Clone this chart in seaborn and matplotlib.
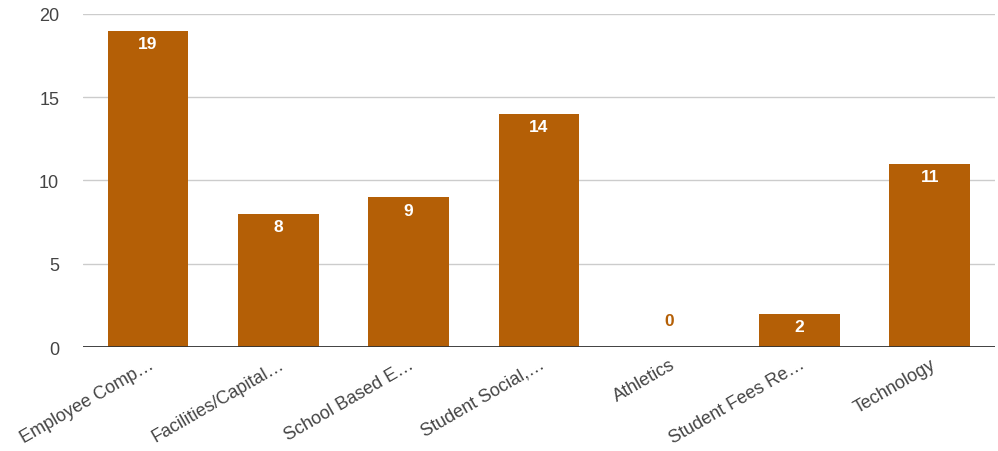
import matplotlib
matplotlib.use("Agg")
import matplotlib.pyplot as plt
import seaborn as sns
import pandas as pd

categories = [
    "Employee Comp…",
    "Facilities/Capital…",
    "School Based E…",
    "Student Social,…",
    "Athletics",
    "Student Fees Re…",
    "Technology",
]
counts = [19, 8, 9, 14, 0, 2, 11]
y_ticks = [0, 5, 10, 15, 20]

BAR_COLOR = "#B45F06"

sns.set_style("white")
plt.rcParams["font.family"] = ["Liberation Sans", "DejaVu Sans"]

df = pd.DataFrame({"category": categories, "count": counts})

fig = plt.figure(figsize=(9.98, 4.52), dpi=100)
ax = fig.add_axes([0.083, 0.23, 0.914, 0.737])

sns.barplot(data=df, x="category", y="count", color=BAR_COLOR,
            saturation=1, width=0.62, linewidth=0, ax=ax, zorder=3)

ax.set_ylim(0, 20)
ax.set_yticks(y_ticks)
ax.yaxis.grid(True, color="#cccccc", linewidth=1, zorder=0)
ax.axhline(0, color="#333333", linewidth=1.3, zorder=4)
for s in ax.spines.values():
    s.set_visible(False)
ax.tick_params(axis="y", length=0, pad=17, labelsize=13, labelcolor="#444444")
ax.tick_params(axis="x", length=0, pad=6, labelsize=13, labelcolor="#444444")
ax.set_xlabel("")
ax.set_ylabel("")
plt.setp(ax.get_xticklabels(), rotation=30, ha="right", rotation_mode="anchor")
ax.set_xlim(-0.5, len(categories) - 0.5)

for i, v in enumerate(counts):
    if v > 0:
        ax.annotate(str(v), (i, v), xytext=(0, -4), textcoords="offset points",
                    ha="center", va="top", color="white", fontweight="bold",
                    fontsize=12.5, zorder=5)
    else:
        ax.annotate(str(v), (i, v), xytext=(0, 14), textcoords="offset points",
                    ha="center", va="bottom", color=BAR_COLOR, fontweight="bold",
                    fontsize=12.5, zorder=5)

fig.savefig("out.png", dpi=100)
